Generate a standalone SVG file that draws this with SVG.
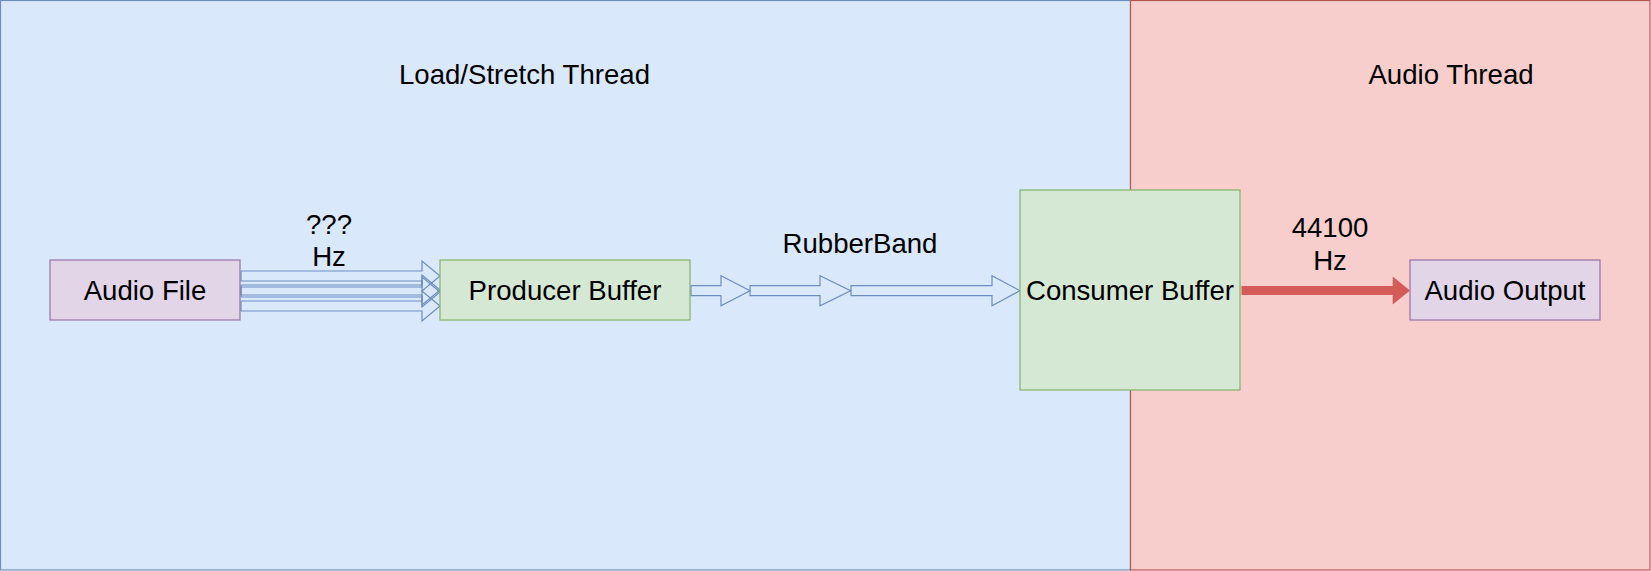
<svg xmlns="http://www.w3.org/2000/svg" width="1651" height="571" viewBox="0 0 1651 571">
<style>
text{font-family:"Liberation Sans",Arial,sans-serif;font-size:27.6px;fill:#000;text-anchor:middle}
.purple{fill:#e1d5e7;stroke:#9673a6;stroke-width:1.2}
.green{fill:#d5e8d4;stroke:#82b366;stroke-width:1.2}
.flex{fill:none;stroke:#6c8ebf;stroke-width:1.2;stroke-linejoin:miter}
.red{fill:#d45b58;stroke:none}
</style>
<g id="panel-load">
<rect x="0.5" y="0.5" width="1130" height="569.5" fill="#dae8fc" stroke="#6c8ebf" stroke-width="1.2"/>
<text x="524.5" y="84">Load/Stretch Thread</text>
</g>
<g id="panel-audio">
<rect x="1130.5" y="0.5" width="519.5" height="569.5" fill="#f8cecc" stroke="#b85450" stroke-width="1.2"/>
<text x="1451" y="84">Audio Thread</text>
</g>
<g id="connectors">
<path class="flex" d="M241,271 L422,271 L422,261 L440,276 L422,291 L422,281 L241,281 Z"/>
<path class="flex" d="M241,285 L422,285 L422,275 L440,290 L422,305 L422,295 L241,295 Z"/>
<path class="flex" d="M241,287 L422,287 L422,277 L440,292 L422,307 L422,297 L241,297 Z"/>
<path class="flex" d="M241,301 L422,301 L422,291 L440,306 L422,321 L422,311 L241,311 Z"/>
<text x="329" y="234">???</text>
<text x="329" y="266">Hz</text>
<path class="flex" d="M691,285.7 L721,285.7 L721,275.7 L750,290.7 L721,305.7 L721,295.7 L691,295.7 Z"/>
<path class="flex" d="M750,285.7 L820,285.7 L820,275.7 L850.7,290.7 L820,305.7 L820,295.7 L750,295.7 Z"/>
<path class="flex" d="M851,285.7 L992,285.7 L992,275.7 L1020,290.7 L992,305.7 L992,295.7 L851,295.7 Z"/>
<text x="860" y="253">RubberBand</text>
<path class="red" d="M1241.5,286 L1392.7,286 L1392.7,276.5 L1410,290.5 L1392.7,304.5 L1392.7,295 L1241.5,295 Z"/>
<text x="1330" y="237">44100</text>
<text x="1330" y="270">Hz</text>
</g>
<g id="node-audio-file">
<rect class="purple" x="50" y="260" width="190" height="60"/>
<text x="145" y="300">Audio File</text>
</g>
<g id="node-producer">
<rect class="green" x="440" y="260" width="250" height="60"/>
<text x="565" y="300">Producer Buffer</text>
</g>
<g id="node-consumer">
<rect class="green" x="1020" y="190" width="220" height="200"/>
<text x="1130" y="300">Consumer Buffer</text>
</g>
<g id="node-audio-output">
<rect class="purple" x="1410" y="260" width="190" height="60"/>
<text x="1505" y="300">Audio Output</text>
</g>
</svg>
